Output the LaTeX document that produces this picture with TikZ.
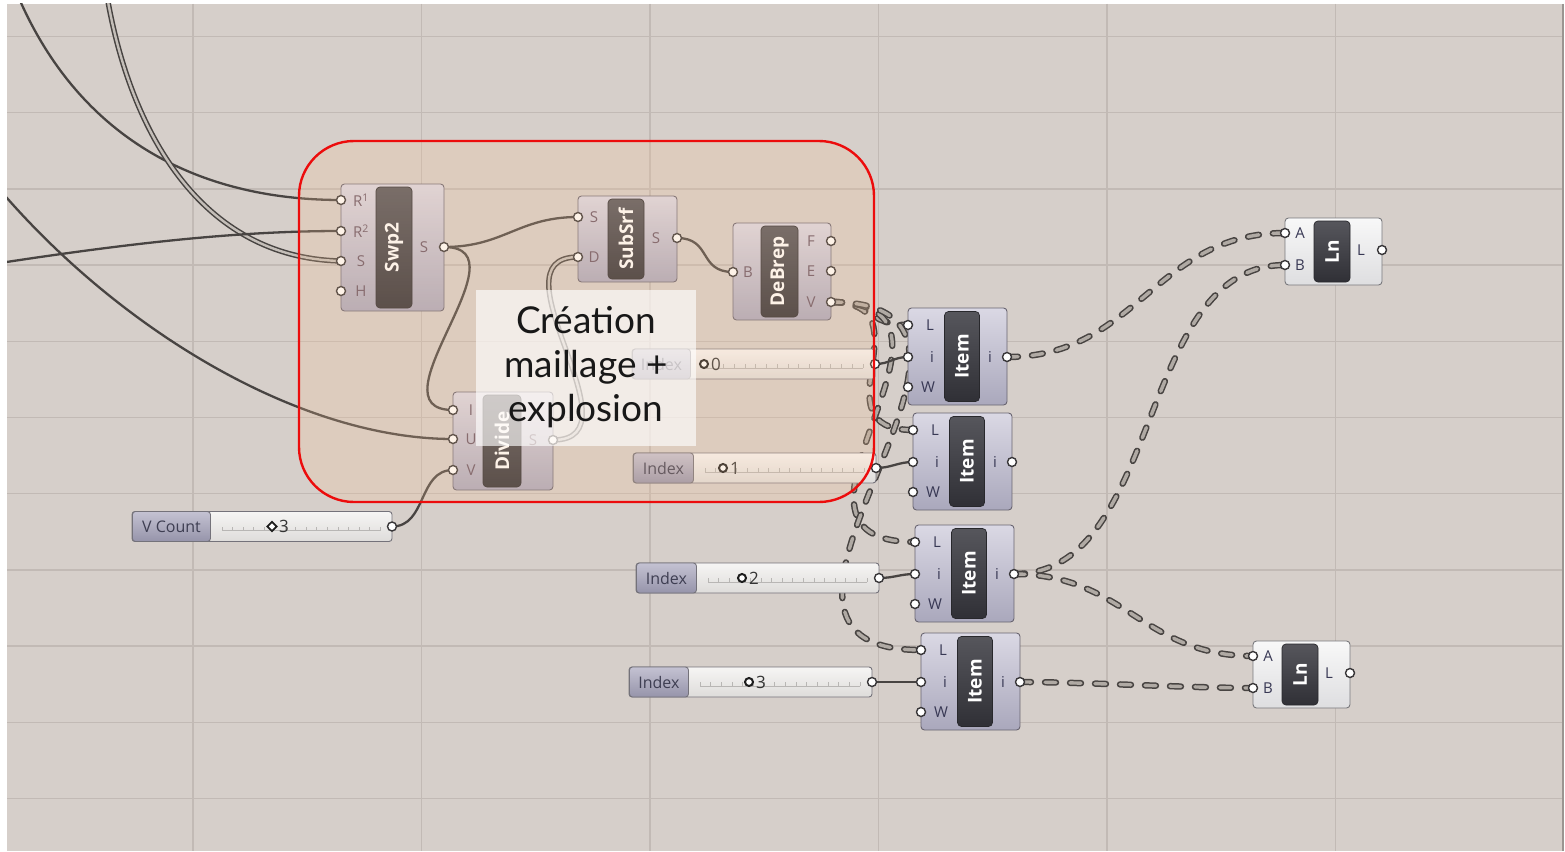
\documentclass[tikz,border=0pt]{standalone}
\usepackage{fontspec}
\usepackage{graphicx}
\setmainfont{Open Sans}
\newfontfamily\capfont{Lato}
\usetikzlibrary{calc}

\pgfdeclarelayer{canvas}
\pgfdeclarelayer{wires}
\pgfdeclarelayer{top}
\pgfsetlayers{canvas,wires,main,top}

% canvas and grid
\definecolor{canvasbg}{RGB}{214,207,202}
\definecolor{gridc}{RGB}{194,186,181}
% wires
\definecolor{wirec}{RGB}{72,68,66}
\definecolor{listin}{RGB}{196,190,184}
\definecolor{treein}{RGB}{176,170,164}
% components
\definecolor{bodytop}{RGB}{218,216,228}
\definecolor{bodybot}{RGB}{170,168,188}
\definecolor{bodyline}{RGB}{104,100,112}
\definecolor{lntop}{RGB}{248,248,248}
\definecolor{lnbot}{RGB}{222,222,224}
\definecolor{lnline}{RGB}{120,120,124}
\definecolor{bartop}{RGB}{86,86,92}
\definecolor{barbot}{RGB}{48,48,54}
\definecolor{barline}{RGB}{40,40,44}
\definecolor{gripline}{RGB}{56,54,56}
\definecolor{portc}{RGB}{104,84,100}
\definecolor{portd}{RGB}{56,56,84}
% sliders
\definecolor{slabtop}{RGB}{196,194,210}
\definecolor{slabbot}{RGB}{150,148,170}
\definecolor{slabtext}{RGB}{62,62,82}
\definecolor{slidetop}{RGB}{246,245,244}
\definecolor{slidebot}{RGB}{222,220,218}
\definecolor{sliderline}{RGB}{116,114,122}
\definecolor{tickc}{RGB}{184,182,180}
\definecolor{knobc}{RGB}{30,30,30}
\definecolor{valc}{RGB}{52,52,52}
% group
\definecolor{groupred}{RGB}{236,12,12}
\definecolor{groupfill}{RGB}{250,196,150}
\definecolor{captc}{RGB}{24,24,24}

\tikzset{
  gridline/.style={draw=gridc, line width=1.3pt},
  edgeline/.style={draw=gridc!80!black, line width=1.2pt},
  body/.style={draw=bodyline, line width=0.9pt, rounded corners=3.5pt,
    top color=bodytop, bottom color=bodybot, inner sep=0pt, outer sep=0pt},
  lnbody/.style={body, draw=lnline, top color=lntop, bottom color=lnbot},
  bar/.style={draw=barline, line width=0.7pt, rounded corners=4pt,
    top color=bartop, bottom color=barbot, inner sep=0pt, outer sep=0pt},
  barlabel/.style={rotate=90, text=white,
    font=\fontsize{19pt}{19pt}\selectfont\bfseries, inner sep=0pt},
  grip/.style={circle, draw=gripline, fill=white, line width=1.4pt,
    minimum size=9pt, inner sep=0pt},
  plabel/.style={text=portc, font=\fontsize{15pt}{15pt}\selectfont, inner sep=0pt},
  ilabel/.style={plabel, text=portd},
  slidebox/.style={draw=sliderline, line width=0.9pt, rounded corners=3pt,
    top color=slidetop, bottom color=slidebot, inner sep=0pt},
  slidelabel/.style={draw=sliderline, line width=0.9pt, rounded corners=3pt,
    top color=slabtop, bottom color=slabbot, text=slabtext,
    font=\fontsize{16pt}{16pt}\selectfont, inner sep=0pt},
  tickmark/.style={draw=tickc, line width=0.7pt},
  ringknob/.style={circle, draw=knobc, line width=2pt, fill=white,
    minimum size=8pt, inner sep=0pt},
  diamondknob/.style={rectangle, rotate=45, draw=knobc, line width=1.8pt,
    fill=white, minimum size=6.5pt, inner sep=0pt},
  valtext/.style={text=valc, font=\fontsize{17pt}{17pt}\selectfont, inner sep=0pt},
  wire/.style={draw=wirec, line width=2.3pt},
  listwire/.style={draw=wirec, line width=1.5pt, double=listin, double distance=2.4pt},
  treewire/.style={draw=wirec, line width=1.5pt, double=treein,
    double distance=3.4pt, dash pattern=on 11pt off 14pt, line cap=round},
  groupframe/.style={draw=groupred, line width=2.4pt, rounded corners=55pt,
    fill=groupfill, fill opacity=0.22},
  veil/.style={fill=white, fill opacity=0.64, inner sep=0pt},
  captext/.style={font=\capfont\fontsize{37pt}{37pt}\selectfont, text=captc, inner sep=0pt},
}

% List Item component: name, left edge, top edge
\newcommand\ghitem[3]{%
  \node[body, minimum width=99pt, minimum height=97pt] (#1) at (#2+49.5,#3+48.5) {};
  \node[bar, minimum width=35pt, minimum height=90pt] (#1-bar) at (#2+54,#3+48.5) {};
  \node[barlabel] (#1-name) at (#1-bar.center) {Item};
  \node[grip] (#1-L) at (#2,#3+17) {};
  \node[grip] (#1-i) at (#2,#3+49) {};
  \node[grip] (#1-W) at (#2,#3+79) {};
  \node[ilabel] (#1-Lt) at (#2+22,#3+17) {L};
  \node[ilabel] (#1-it) at (#2+24,#3+49) {i};
  \node[ilabel] (#1-Wt) at (#2+20,#3+79) {W};
  \node[grip] (#1-o) at (#2+99,#3+49) {};
  \node[ilabel] (#1-ot) at (#2+82,#3+49) {i};
}

% Line component: name, left edge, top edge
\newcommand\ghln[3]{%
  \node[lnbody, minimum width=97pt, minimum height=67pt] (#1) at (#2+48.5,#3+33.5) {};
  \node[bar, minimum width=36pt, minimum height=61pt] (#1-bar) at (#2+47,#3+33.5) {};
  \node[barlabel] (#1-name) at (#1-bar.center) {Ln};
  \node[grip] (#1-A) at (#2,#3+15) {};
  \node[grip] (#1-B) at (#2,#3+47) {};
  \node[ilabel] (#1-At) at (#2+15,#3+15) {A};
  \node[ilabel] (#1-Bt) at (#2+15,#3+47) {B};
  \node[grip] (#1-o) at (#2+97,#3+32) {};
  \node[ilabel] (#1-ot) at (#2+76,#3+32) {L};
}

% Number slider: name, left, label right, right, centre y, label, knob x, value, knob style
\newcommand\ghslider[9]{%
  \node[slidebox, minimum width={#4-#2}, minimum height=30pt] (#1) at ({(#2+#4)/2},#5) {};
  \node[slidelabel, minimum width={#3-#2}, minimum height=30pt, anchor=west] (#1-lab) at (#2,#5) {#6};
  \draw[tickmark] (#3+12,#5+4) -- (#4-12,#5+4);
  \foreach \k in {0,...,15} {
    \draw[tickmark] ({#3+12+\k*(#4-#3-24)/15},#5+4) -- ++(0,-4);
  }
  \node[#9] (#1-knob) at (#7,#5) {};
  \node[valtext, anchor=west] (#1-val) at (#7+7,#5) {#8};
  \node[grip] (#1-out) at (#4,#5) {};
}

\begin{document}
\begin{tikzpicture}[x=1pt,y=-1pt]
\useasboundingbox (0,0) rectangle (1565,851);

% canvas with grid
\begin{pgfonlayer}{canvas}
  \fill[white] (0,0) rectangle (1565,851);
  \fill[canvasbg] (7,4) rectangle (1563,851);
  \foreach \gx in {193,421.5,650,878.5,1107,1335.5}
    \draw[gridline] (\gx,4) -- (\gx,851);
  \foreach \gy in {36.5,112.7,188.9,265.1,341.3,417.5,493.7,569.9,646.1,722.3,798.5}
    \draw[gridline] (7,\gy) -- (1563,\gy);
  \draw[edgeline] (1563,4) -- (1563,851);
\end{pgfonlayer}

% Sweep2
\node[body, minimum width=103pt, minimum height=127pt] (swp) at (392.5,247.5) {};
\node[bar, minimum width=36pt, minimum height=121pt] (swp-bar) at (394,247.5) {};
\node[barlabel] (swp-name) at (swp-bar.center) {Swp2};
\foreach \n/\y/\t in {R1/200/{R\textsuperscript{1}},R2/231/{R\textsuperscript{2}},S/261/S,H/291/H} {
  \node[grip] (swp-\n) at (341,\y) {};
  \node[plabel] (swp-\n-t) at (361,\y) {\t};
}
\node[grip] (swp-o) at (444,247) {};
\node[plabel] (swp-o-t) at (424,247) {S};

% SubSrf
\node[body, minimum width=99pt, minimum height=86pt] (sub) at (627.5,239) {};
\node[bar, minimum width=36pt, minimum height=80pt] (sub-bar) at (626,239) {};
\node[barlabel] (sub-name) at (sub-bar.center) {SubSrf};
\node[grip] (sub-S) at (578,217) {};
\node[grip] (sub-D) at (578,257) {};
\node[plabel] (sub-S-t) at (594,217) {S};
\node[plabel] (sub-D-t) at (594,257) {D};
\node[grip] (sub-o) at (677,238) {};
\node[plabel] (sub-o-t) at (656,238) {S};

% DeBrep
\node[body, minimum width=98pt, minimum height=97pt] (deb) at (782,271.5) {};
\node[bar, minimum width=37pt, minimum height=91pt] (deb-bar) at (779.5,271.5) {};
\node[barlabel] (deb-name) at (deb-bar.center) {DeBrep};
\node[grip] (deb-B) at (733,272) {};
\node[plabel] (deb-B-t) at (748,272) {B};
\foreach \n/\y in {F/241,E/271,V/302} {
  \node[grip] (deb-\n) at (831,\y) {};
  \node[plabel] (deb-\n-t) at (811,\y) {\n};
}

% Divide
\node[body, minimum width=100pt, minimum height=98pt] (div) at (503,441) {};
\node[bar, minimum width=38pt, minimum height=92pt] (div-bar) at (502,441) {};
\node[barlabel] (div-name) at (div-bar.center) {Divide};
\foreach \n/\y in {I/410,U/439,V/470} {
  \node[grip] (div-\n) at (453,\y) {};
  \node[plabel] (div-\n-t) at (471,\y) {\n};
}
\node[grip] (div-o) at (553,440) {};
\node[plabel] (div-o-t) at (533,440) {S};

% List Item components
\ghitem{it1}{908}{308}
\ghitem{it2}{913}{413}
\ghitem{it3}{915}{525}
\ghitem{it4}{921}{633}

% Line components
\ghln{ln1}{1285}{218}
\ghln{ln2}{1253}{641}

% sliders
\ghslider{vc}{132}{210}{392}{526.5}{V Count}{272}{3}{diamondknob}
\ghslider{ix0}{632}{690}{875}{364}{Index}{704}{0}{ringknob}
\ghslider{ix1}{633}{693}{876}{468}{Index}{723}{1}{ringknob}
\ghslider{ix2}{636}{696}{879}{578}{Index}{742}{2}{ringknob}
\ghslider{ix3}{629}{688}{872}{682}{Index}{749}{3}{ringknob}

% wires
\begin{pgfonlayer}{wires}
  \begin{scope}
    \clip (7,4) rectangle (1563,851);
    \coordinate (e1) at (18,-4);
    \coordinate (e2) at (107,-4);
    \coordinate (e3) at (0,263);
    \coordinate (e4) at (0,190);
    \draw[wire] (e1) .. controls (80,140) and (200,200) .. (swp-R1.center);
    \draw[listwire] (e2) .. controls (130,130) and (200,258) .. (swp-S.center);
    \draw[wire] (e3) .. controls (150,240) and (250,231) .. (swp-R2.center);
    \draw[wire] (e4) .. controls (120,330) and (300,439) .. (div-U.center);

    \draw[wire] (swp-o.center) .. controls +(60,0) and +(-60,0) .. (sub-S.center);
    \draw[wire] (swp-o.center) .. controls +(85,0) and +(-85,0) .. (div-I.center);
    \draw[listwire] (div-o.center) .. controls +(90,0) and +(-90,0) .. (sub-D.center);
    \draw[wire] (sub-o.center) .. controls +(35,0) and +(-35,0) .. (deb-B.center);
    \draw[wire] (vc-out.center) .. controls +(35,0) and +(-35,0) .. (div-V.center);

    \draw[treewire] (deb-V.center) .. controls +(40,0) and +(-40,0) .. (it1-L.center);
    \draw[treewire] (deb-V.center) .. controls +(100,0) and +(-100,0) .. (it2-L.center);
    \draw[treewire] (deb-V.center) .. controls +(170,0) and +(-170,0) .. (it3-L.center);
    \draw[treewire] (deb-V.center) .. controls +(230,0) and +(-230,0) .. (it4-L.center);

    \draw[wire] (ix0-out.center) .. controls +(15,0) and +(-15,0) .. (it1-i.center);
    \draw[wire] (ix1-out.center) .. controls +(15,0) and +(-15,0) .. (it2-i.center);
    \draw[wire] (ix2-out.center) .. controls +(15,0) and +(-15,0) .. (it3-i.center);
    \draw[wire] (ix3-out.center) .. controls +(15,0) and +(-15,0) .. (it4-i.center);

    \draw[treewire] (it1-o.center) .. controls +(130,0) and +(-130,0) .. (ln1-A.center);
    \draw[treewire] (it3-o.center) .. controls +(150,0) and +(-150,0) .. (ln1-B.center);
    \draw[treewire] (it3-o.center) .. controls +(110,0) and +(-110,0) .. (ln2-A.center);
    \draw[treewire] (it4-o.center) .. controls +(60,0) and +(-60,0) .. (ln2-B.center);
  \end{scope}
\end{pgfonlayer}

% group frame and caption
\begin{pgfonlayer}{top}
  \draw[groupframe] (299,141) rectangle (874,502);
  \node[veil, minimum width=220pt, minimum height=156pt] (capbox) at (586,368) {};
  \node[captext, anchor=base] (cap1) at (586,333) {Création};
  \node[captext, anchor=base] (cap2) at (586,377) {maillage +};
  \node[captext, anchor=base] (cap3) at (586,421) {explosion};
\end{pgfonlayer}
\end{tikzpicture}
\end{document}
